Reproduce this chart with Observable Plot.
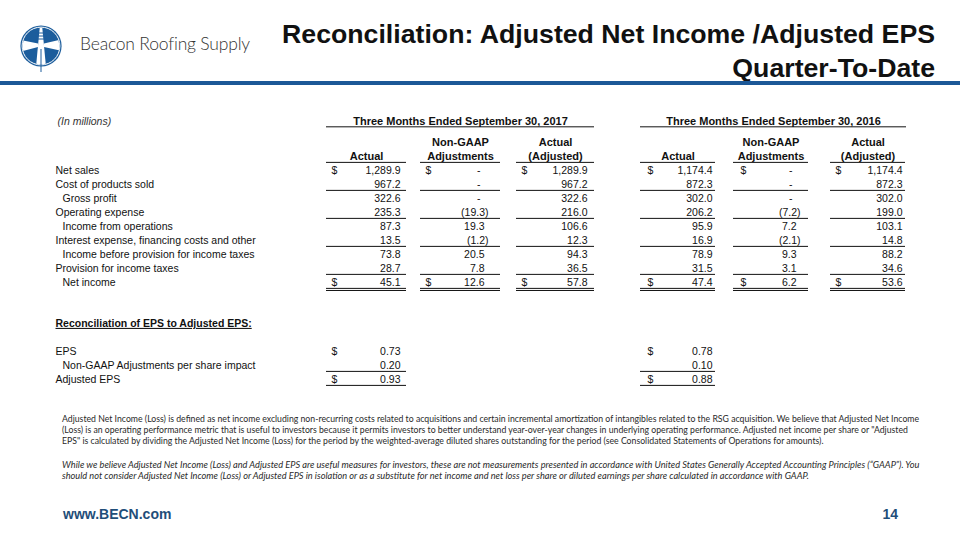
<!DOCTYPE html>
<html>
<head>
<meta charset="utf-8">
<script src="https://cdn.jsdelivr.net/npm/d3@7"></script>
<script src="https://cdn.jsdelivr.net/npm/@observablehq/plot@0.6"></script>
<style>
  html, body { margin: 0; padding: 0; background: #fff; }
  #slide { position: relative; width: 960px; height: 540px; overflow: hidden; background: #fff; font-family: Arial, "Liberation Sans", sans-serif; }
  #logo { position: absolute; left: 15px; top: 20px; }
  #brand { position: absolute; left: 80px; top: 33px; font-family: Lato, "Open Sans", sans-serif; font-weight: 300; font-size: 17.5px; color: #333; letter-spacing: -0.2px; white-space: nowrap; }
  #title { position: absolute; right: 25px; top: 17px; text-align: right; font-weight: bold; font-size: 26.7px; line-height: 34px; color: #111; white-space: nowrap; }
  #bar { position: absolute; left: 0; top: 81px; width: 960px; height: 4px; background: #1c5897; }
  #table { position: absolute; left: 0; top: 100px; }
  .notes { position: absolute; left: 62px; font-family: Lato, "Open Sans", sans-serif; font-size: 8px; line-height: 11px; color: #2a2a2a; white-space: nowrap; }
  #notes1 { top: 413px; }
  #notes2 { top: 459px; font-style: italic; }
  #url { position: absolute; left: 63px; top: 506px; font-weight: bold; font-size: 14px; color: #1f4e79; }
  #page { position: absolute; right: 62px; top: 506px; font-weight: bold; font-size: 14px; color: #1f4e79; }
</style>
</head>
<body>
<div id="slide">
  <svg id="logo" width="52" height="52" viewBox="0 0 52 52">
    <defs><clipPath id="lc"><circle cx="26" cy="26" r="18.3"/></clipPath></defs>
    <circle cx="26" cy="26" r="20.6" fill="#1c5d9c"/>
    <circle cx="26" cy="26" r="18.9" fill="none" stroke="#fff" stroke-width="1"/>
    <g clip-path="url(#lc)" fill="#fff">
      <polygon points="0,19 23,23.5 23,27 0,33"/>
      <polygon points="52,18 29,23.5 29,27 52,32"/>
      <polygon points="24.8,7 27.2,7 31.5,52 20.5,52"/>
    </g>
    <g stroke="#1c5d9c" stroke-width="1">
      <line x1="20" y1="13" x2="32" y2="13"/>
      <line x1="20" y1="16" x2="32" y2="16"/>
      <line x1="20" y1="19" x2="32" y2="19"/>
      <line x1="26" y1="29" x2="26" y2="52"/>
    </g>
  </svg>
  <div id="brand">Beacon Roofing Supply</div>
  <div id="title">Reconciliation: Adjusted Net Income /Adjusted EPS<br>Quarter-To-Date</div>
  <div id="bar"></div>
  <div id="table"></div>
  <div class="notes" id="notes1">Adjusted Net Income (Loss) is defined as net income excluding non-recurring costs related to acquisitions and certain incremental amortization of intangibles related to the RSG acquisition. We believe that Adjusted Net Income<br>(Loss) is an operating performance metric that is useful to investors because it permits investors to better understand year-over-year changes in underlying operating performance. Adjusted net income per share or "Adjusted<br>EPS" is calculated by dividing the Adjusted Net Income (Loss) for the period by the weighted-average diluted shares outstanding for the period (see Consolidated Statements of Operations for amounts).</div>
  <div class="notes" id="notes2">While we believe Adjusted Net Income (Loss) and Adjusted EPS are useful measures for investors, these are not measurements presented in accordance with United States Generally Accepted Accounting Principles (“GAAP”). You<br>should not consider Adjusted Net Income (Loss) or Adjusted EPS in isolation or as a substitute for net income and net loss per share or diluted earnings per share calculated in accordance with GAAP.</div>
  <div id="url">www.BECN.com</div>
  <div id="page">14</div>
</div>
<script>
// ---------------- data ----------------
const rowLabels = ["Net sales", "Cost of products sold", "Gross profit", "Operating expense",
  "Income from operations", "Interest expense, financing costs and other",
  "Income before provision for income taxes", "Provision for income taxes", "Net income"];
const rowIndented = [false, false, true, false, true, false, true, false, true];
const periodLabels = ["Three Months Ended September 30, 2017", "Three Months Ended September 30, 2016"];
const columnLabels = [["Actual"], ["Non-GAAP", "Adjustments"], ["Actual", "(Adjusted)"]];
const actual2017   = [1289.9, 967.2, 322.6, 235.3, 87.3, 13.5, 73.8, 28.7, 45.1];
const adj2017      = [0, 0, 0, -19.3, 19.3, -1.2, 20.5, 7.8, 12.6];
const adjusted2017 = [1289.9, 967.2, 322.6, 216.0, 106.6, 12.3, 94.3, 36.5, 57.8];
const actual2016   = [1174.4, 872.3, 302.0, 206.2, 95.9, 16.9, 78.9, 31.5, 47.4];
const adj2016      = [0, 0, 0, -7.2, 7.2, -2.1, 9.3, 3.1, 6.2];
const adjusted2016 = [1174.4, 872.3, 302.0, 199.0, 103.1, 14.8, 88.2, 34.6, 53.6];
const epsTitle = "Reconciliation of EPS to Adjusted EPS:";
const epsLabels = ["EPS", "Non-GAAP Adjustments per share impact", "Adjusted EPS"];
const epsIndented = [false, true, false];
const eps2017 = [0.73, 0.20, 0.93];
const eps2016 = [0.78, 0.10, 0.88];
const unitsLabel = "(In millions)";

// ---------------- layout (slide px for x, row units for y) ----------------
const layout = {
  labelX: 55, indentX: 62, unitsX: 57,
  periodRow: -3.5, headerRow: -1, epsTitleRow: 10.93, epsRow0: 12.93,
  underOffset: 0.42, doubleOffset: 0.57,
  dollarRows: [0, 8], singleRules: [1, 3, 5, 7], doubleRule: 8,
  periods: [
    { x1: 326, x2: 594, cols: [
      { x1: 326, x2: 406, dollar: 331, right: 400 },
      { x1: 420, x2: 500, dollar: 425, right: 484 },
      { x1: 516, x2: 594, dollar: 521, right: 587 }] },
    { x1: 640, x2: 906, cols: [
      { x1: 640, x2: 715, dollar: 647, right: 712 },
      { x1: 733, x2: 808, dollar: 740, right: 796 },
      { x1: 830, x2: 905, dollar: 835, right: 902 }] }
  ]
};

// ---------------- build tables ----------------
const series = [[actual2017, adj2017, adjusted2017], [actual2016, adj2016, adjusted2016]];
const fmt = d3.format(",.1f");
const fmtEps = d3.format(".2f");

const labelRows = rowLabels.map((label, i) => ({ label, row: i, x: rowIndented[i] ? layout.indentX : layout.labelX }));
epsLabels.forEach((label, i) => labelRows.push({ label, row: layout.epsRow0 + i, x: epsIndented[i] ? layout.indentX : layout.labelX }));

const periodHeads = periodLabels.map((text, p) => ({ text, p, cx: (layout.periods[p].x1 + layout.periods[p].x2) / 2 }));

const colHeads = [];
const colSegs = [];
layout.periods.forEach((per, p) => per.cols.forEach((c, k) => {
  const lines = columnLabels[k];
  lines.forEach((t, j) => colHeads.push({ text: t, cx: (c.x1 + c.x2) / 2, row: layout.headerRow - (lines.length - 1 - j) }));
  colSegs.push({ x1: c.x1, x2: c.x2, row: layout.headerRow });
}));

const cells = [];
const dollars = [];
const rules = [];
layout.periods.forEach((per, p) => per.cols.forEach((c, k) => {
  series[p][k].forEach((v, r) => {
    let text, x;
    if (v === 0) { text = "-"; x = c.right - 4; }
    else if (v < 0) { text = "(" + fmt(-v) + ")"; x = c.right + 4; }
    else { text = fmt(v); x = c.right; }
    cells.push({ text, x, row: r });
  });
  layout.dollarRows.forEach(r => dollars.push({ x: c.dollar, row: r }));
  layout.singleRules.forEach(r => rules.push({ x1: c.x1, x2: c.x2, row: r + layout.underOffset }));
  rules.push({ x1: c.x1, x2: c.x2, row: layout.doubleRule + layout.underOffset });
  rules.push({ x1: c.x1, x2: c.x2, row: layout.doubleRule + layout.doubleOffset });
}));

// EPS section (first column of each period)
const epsSeries = [eps2017, eps2016];
layout.periods.forEach((per, p) => {
  const c = per.cols[0];
  epsSeries[p].forEach((v, i) => cells.push({ text: fmtEps(v), x: c.right, row: layout.epsRow0 + i }));
  dollars.push({ x: c.dollar, row: layout.epsRow0 });
  dollars.push({ x: c.dollar, row: layout.epsRow0 + 2 });
  rules.push({ x1: c.x1, x2: c.x2, row: layout.epsRow0 + 1 + layout.underOffset });
  rules.push({ x1: c.x1, x2: c.x2, row: layout.epsRow0 + 2 + layout.underOffset });
});

const chart = Plot.plot({
  width: 960, height: 295,
  marginTop: 0, marginBottom: 0, marginLeft: 0, marginRight: 0,
  x: { domain: [0, 960], range: [0, 960], axis: null },
  y: { domain: [-4, 16], range: [14, 294], axis: null },
  style: { fontFamily: "Arial, 'Liberation Sans', sans-serif", fontSize: "10.5px", color: "#111", background: "transparent", overflow: "visible" },
  marks: [
    Plot.text([unitsLabel], { x: () => layout.unitsX, y: () => layout.periodRow, text: d => d, textAnchor: "start", fontStyle: "italic", fill: "#333" }),
    Plot.text(periodHeads, { x: "cx", y: () => layout.periodRow, text: "text", fontWeight: "bold", fontSize: 11 }),
    Plot.ruleY(periodHeads, { y: () => layout.periodRow + 0.38, x1: d => layout.periods[d.p].x1, x2: d => layout.periods[d.p].x2, stroke: "#111" }),
    Plot.text(colHeads, { x: "cx", y: "row", text: "text", fontWeight: "bold", fontSize: 11 }),
    Plot.ruleY(colSegs, { y: d => d.row + layout.underOffset, x1: "x1", x2: "x2", stroke: "#111" }),
    Plot.text(labelRows, { x: "x", y: "row", text: "label", textAnchor: "start" }),
    Plot.text(cells, { x: "x", y: "row", text: "text", textAnchor: "end" }),
    Plot.text(dollars, { x: "x", y: "row", text: () => "$", textAnchor: "start" }),
    Plot.ruleY(rules, { y: "row", x1: "x1", x2: "x2", stroke: "#111" }),
    Plot.text([epsTitle], { x: () => layout.labelX, y: () => layout.epsTitleRow, text: d => d, textAnchor: "start", fontWeight: "bold" })
  ]
});
d3.select(chart).selectAll("text").filter(function () { return this.textContent === epsTitle; })
  .style("text-decoration", "underline");
document.getElementById("table").appendChild(chart);

// fit each footnote block so its widest line spans the text area (62px .. 920px)
(function fitNotes() {
  const target = 858;
  ["notes1", "notes2"].forEach(id => {
    const b = document.getElementById(id);
    const w = b.getBoundingClientRect().width;
    b.style.fontSize = (8 * target / w).toFixed(2) + "px";
  });
})();
</script>
</body>
</html>
